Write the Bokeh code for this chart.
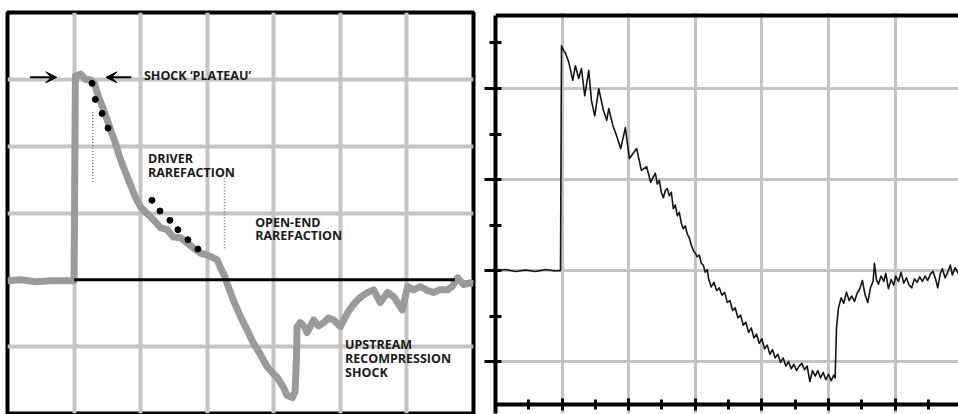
from bokeh.plotting import figure
from bokeh.layouts import row
from bokeh.models import Range1d, FixedTicker, Arrow, VeeHead, LinearAxis
from bokeh.core.properties import value
from bokeh.embed import file_html
from bokeh.resources import INLINE

# ---------------- left panel data (grid units) ----------------
left_x = [0.00, 0.20, 0.42, 0.65, 0.87, 1.00, 1.02, 1.10, 1.17, 1.25, 1.31, 1.35, 1.43, 1.50,
          1.56, 1.62, 1.68, 1.74, 1.80, 1.86, 1.92, 2.00, 2.07, 2.15, 2.22, 2.30, 2.40, 2.49,
          2.60, 2.70, 2.79, 2.90, 3.00, 3.09, 3.15, 3.20, 3.26, 3.30, 3.39, 3.50, 3.60, 3.69,
          3.80, 3.90, 3.98, 4.05, 4.14, 4.20, 4.28, 4.32, 4.34, 4.35, 4.40, 4.46, 4.50, 4.60,
          4.67, 4.75, 4.82, 4.90, 5.00, 5.11, 5.18, 5.26, 5.33, 5.41, 5.50, 5.60, 5.71, 5.80,
          5.93, 6.01, 6.10, 6.20, 6.31, 6.40, 6.50, 6.61, 6.68, 6.76, 6.85, 6.95, 7.00]
left_y = [-0.015, 0.0, -0.03, -0.015, -0.015, -0.015, 3.05, 3.08, 3.00, 2.99, 2.93, 2.79, 2.58, 2.39,
          2.21, 2.05, 1.85, 1.69, 1.54, 1.39, 1.24, 1.09, 1.02, 0.94, 0.87, 0.78, 0.75, 0.64,
          0.63, 0.55, 0.48, 0.40, 0.37, 0.33, 0.30, 0.18, 0.06, -0.06, -0.30, -0.55, -0.75, -0.94,
          -1.12, -1.30, -1.39, -1.46, -1.60, -1.73, -1.76, -1.67, -1.19, -0.70, -0.64, -0.70, -0.79, -0.60,
          -0.69, -0.64, -0.57, -0.60, -0.70, -0.49, -0.39, -0.30, -0.24, -0.19, -0.15, -0.34, -0.19, -0.25,
          -0.45, -0.10, -0.15, -0.10, -0.16, -0.19, -0.15, -0.15, -0.10, 0.03, -0.07, -0.045, -0.06]

dots_x = [1.27, 1.32, 1.42, 1.51, 2.17, 2.29, 2.44, 2.56, 2.71, 2.86]
dots_y = [2.94, 2.70, 2.49, 2.27, 1.19, 1.03, 0.89, 0.75, 0.60, 0.46]

left_labels = ["SHOCK \u2018PLATEAU\u2019", "DRIVER", "RAREFACTION", "OPEN-END", "RAREFACTION",
               "UPSTREAM", "RECOMPRESSION", "SHOCK"]
left_label_x = [2.05, 2.11, 2.11, 3.72, 3.72, 5.07, 5.07, 5.07]
left_label_y = [3.05, 1.82, 1.61, 0.86, 0.66, -0.97, -1.18, -1.38]

# ---------------- right panel data (grid units) ----------------
right_x = [0.00, 0.15, 0.30, 0.45, 0.60, 0.75, 0.90, 0.976, 0.991, 1.02, 1.05, 1.10, 1.16, 1.20,
           1.25, 1.29, 1.34, 1.40, 1.44, 1.49, 1.55, 1.62, 1.67, 1.70, 1.76, 1.80, 1.88, 1.95,
           2.01, 2.12, 2.19, 2.27, 2.33,
           2.40, 2.43, 2.46, 2.49, 2.52, 2.55, 2.58, 2.61, 2.64, 2.67, 2.70, 2.73, 2.76, 2.79,
           2.82, 2.85, 2.88, 2.91, 2.94, 2.97, 3.00, 3.03, 3.06, 3.09, 3.12, 3.15, 3.18,
           3.20, 3.24, 3.28, 3.32, 3.36, 3.40, 3.44, 3.48, 3.52, 3.56, 3.60, 3.64, 3.68, 3.72,
           3.76, 3.80, 3.84, 3.88, 3.92, 3.96, 4.00, 4.04, 4.08, 4.12, 4.16, 4.20, 4.24, 4.28,
           4.32, 4.36, 4.40, 4.44, 4.48, 4.52, 4.56, 4.60, 4.64, 4.68, 4.72, 4.76, 4.80, 4.84,
           4.88, 4.92, 4.96, 5.00, 5.04, 5.08, 5.10, 5.12,
           5.15, 5.19, 5.23, 5.27, 5.31, 5.35, 5.39, 5.43, 5.47, 5.51, 5.55, 5.59, 5.63, 5.67,
           5.69, 5.72, 5.75, 5.79, 5.83, 5.86, 5.90, 5.94, 5.98, 6.01, 6.05, 6.09, 6.13, 6.17,
           6.21, 6.25, 6.29, 6.33, 6.37, 6.41, 6.45, 6.49, 6.53, 6.57, 6.61, 6.64, 6.68, 6.71,
           6.75, 6.79, 6.83, 6.86, 6.90, 6.95]
right_y = [0.0, 0.011, -0.011, 0.005, -0.011, 0.011, -0.005, 0.0, 2.47, 2.42, 2.39, 2.29, 2.09, 2.25,
           2.11, 2.22, 1.92, 2.20, 1.87, 1.70, 2.00, 1.76, 1.65, 1.78, 1.60, 1.52, 1.34, 1.57,
           1.23, 1.34, 1.10, 1.14, 0.97,
           1.07, 0.95, 0.99, 0.86, 0.80, 0.88, 0.90, 0.82, 0.86, 0.68, 0.72, 0.60, 0.64, 0.52,
           0.46, 0.49, 0.40, 0.36, 0.28, 0.22, 0.19, 0.15, 0.17, 0.08, 0.06, -0.02, 0.01,
           -0.09, -0.18, -0.13, -0.22, -0.19, -0.27, -0.24, -0.35, -0.33, -0.44, -0.41, -0.52, -0.49, -0.60,
           -0.57, -0.68, -0.63, -0.74, -0.70, -0.80, -0.75, -0.86, -0.82, -0.92, -0.87, -0.96, -0.92, -1.01,
           -0.96, -1.05, -1.00, -1.08, -1.03, -1.10, -1.05, -1.02, -1.09, -1.05, -1.22, -1.10, -1.16, -1.10,
           -1.18, -1.12, -1.20, -1.14, -1.21, -1.15, -1.18, -0.63,
           -0.41, -0.30, -0.36, -0.24, -0.33, -0.28, -0.34, -0.25, -0.20, -0.11, -0.27, -0.35, -0.19, -0.12,
           0.08, -0.10, -0.15, -0.06, -0.12, -0.03, -0.20, -0.10, -0.16, -0.06, -0.12, -0.02, -0.14, -0.08,
           -0.16, -0.19, -0.09, -0.13, -0.07, -0.12, -0.06, -0.11, -0.04, -0.01, -0.10, -0.19, -0.03, 0.02,
           -0.08, -0.02, 0.06, -0.05, 0.03, -0.03]

grid_x_ticks = [1, 2, 3, 4, 5, 6]
left_grid_y_ticks = [-1, 1, 2, 3]
right_grid_y_ticks = [-1, 0, 1, 2]
right_x_major = [0, 1, 2, 3, 4, 5, 6]
right_x_minor = [0.5, 1.5, 2.5, 3.5, 4.5, 5.5, 6.5]
right_y_major = [-1, 0, 1, 2]
right_y_minor = [-0.5, 0.5, 1.5, 2.5]
right_bottom, right_top = -1.475, 2.8     # where the right panel's frame lines sit

GRID = "#c4c4c4"
TRACE = "#9a9a9a"
FONT = value("Open Sans")

# ---------------- left figure ----------------
p1 = figure(width=480, height=414, x_range=Range1d(0, 7), y_range=Range1d(-2, 4),
            output_backend="svg", toolbar_location=None,
            x_axis_location=None, y_axis_location=None,
            min_border_left=7, min_border_right=7, min_border_top=12, min_border_bottom=1)
p1.outline_line_color = "black"
p1.outline_line_width = 4
p1.xgrid.ticker = FixedTicker(ticks=grid_x_ticks)
p1.ygrid.ticker = FixedTicker(ticks=left_grid_y_ticks)
for g in (p1.xgrid, p1.ygrid):
    g.grid_line_color = GRID
    g.grid_line_width = 4

p1.line(left_x, left_y, line_width=7, color=TRACE, line_join="round")
p1.segment(x0=[1.0], y0=[0], x1=[6.72], y1=[0], line_width=3, color="black")
p1.scatter(dots_x, dots_y, size=6, color="black")
p1.segment(x0=[1.28, 3.26], y0=[2.51, 1.52], x1=[1.28, 3.26], y1=[1.45, 0.45],
           line_width=1.5, color="#7a7a7a", line_dash="1 2")
p1.add_layout(Arrow(end=VeeHead(size=11, fill_color="black", line_color="black"),
                    x_start=0.34, y_start=3.03, x_end=0.74, y_end=3.03,
                    line_width=2, line_color="black"))
p1.add_layout(Arrow(end=VeeHead(size=11, fill_color="black", line_color="black"),
                    x_start=1.86, y_start=3.03, x_end=1.48, y_end=3.03,
                    line_width=2, line_color="black"))
p1.text(x=left_label_x, y=left_label_y, text=left_labels, text_font=FONT,
        text_font_style="bold", text_font_size="12.5px", text_color="#1a1a1a",
        text_align="left", text_baseline="middle")

# ---------------- right figure ----------------
p2 = figure(width=478, height=414, x_range=Range1d(0, 6.952), y_range=Range1d(-1.571, 2.835),
            output_backend="svg", toolbar_location=None,
            min_border_left=15, min_border_right=0, min_border_top=12, min_border_bottom=1)
p2.outline_line_color = None
p2.xgrid.ticker = FixedTicker(ticks=grid_x_ticks)
p2.xgrid.bounds = (right_bottom, right_top)
p2.ygrid.ticker = FixedTicker(ticks=right_grid_y_ticks)
for g in (p2.xgrid, p2.ygrid):
    g.grid_line_color = GRID
    g.grid_line_width = 3

xa = p2.xaxis[0]
xa.fixed_location = right_bottom
xa.ticker = FixedTicker(ticks=right_x_major, minor_ticks=right_x_minor)
xa.major_tick_in = 6
xa.major_tick_out = 6
xa.minor_tick_in = 5
xa.minor_tick_out = 5
ya = p2.yaxis[0]
ya.ticker = FixedTicker(ticks=right_y_major, minor_ticks=right_y_minor)
ya.bounds = (-1.571, right_top)
ya.major_tick_in = 6
ya.major_tick_out = 11
ya.minor_tick_in = 6
ya.minor_tick_out = 6
for ax in (xa, ya):
    ax.axis_line_width = 4
    ax.axis_line_color = "black"
    ax.major_tick_line_width = 3
    ax.minor_tick_line_width = 3
    ax.major_tick_line_color = "black"
    ax.minor_tick_line_color = "black"
    ax.major_label_text_font_size = "1px"
    ax.major_label_text_color = None
    ax.major_label_standoff = 0
    ax.axis_label = None

top = LinearAxis(ticker=FixedTicker(ticks=[]), fixed_location=right_top,
                 major_tick_in=0, major_tick_out=0,
                 minor_tick_in=0, minor_tick_out=0, axis_line_width=4, axis_line_color="black",
                 major_label_text_font_size="1px", major_label_text_color=None,
                 major_label_standoff=0)
p2.add_layout(top, "above")

p2.line(right_x, right_y, line_width=1.6, color="#151515", line_join="round")

layout = row(p1, p2)
open("out.html", "w").write(file_html(layout, INLINE))
